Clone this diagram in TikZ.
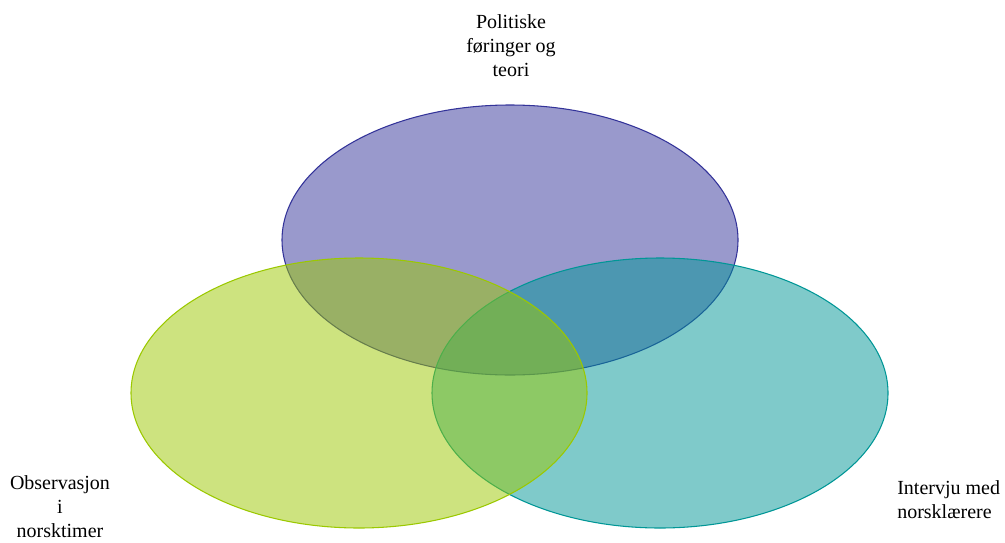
\documentclass[tikz,border=0pt]{standalone}
\usepackage{fontspec}
\setmainfont{Liberation Serif}
\usetikzlibrary{positioning,shapes.geometric}
\definecolor{polcol}{RGB}{51,51,153}
\definecolor{obscol}{RGB}{155,200,0}
\definecolor{intcol}{RGB}{0,150,150}
\tikzset{
  circ/.style={ellipse,draw,line width=0.8pt,fill opacity=0.5,inner sep=0pt,minimum width=342pt,minimum height=202.5pt},
  lbl/.style={align=center,font=\fontsize{15}{18}\selectfont,inner sep=0pt}
}

\begin{document}
\begin{tikzpicture}[x=0.75pt,y=-0.75pt]
		\useasboundingbox (0,0) rectangle (1005,542);
		\node[circ,draw=polcol,fill=polcol] (politikk) at (510,240) {};
		\node[circ,draw=intcol,fill=intcol] (intervju) at (660,393) {};
		\node[circ,draw=obscol,fill=obscol] (observasjon) at (359,393) {};
		
		\node[lbl] (politikktxt) at (511,46) {Politiske\\føringer og\\teori};
		\node[lbl] (observasjontxt) at (60,507) {Observasjon\\i\\norsktimer};
		\node[lbl,align=left,anchor=west] (intervjutxt) at (897,500) {Intervju med\\norsklærere};
	\end{tikzpicture}
\end{document}
